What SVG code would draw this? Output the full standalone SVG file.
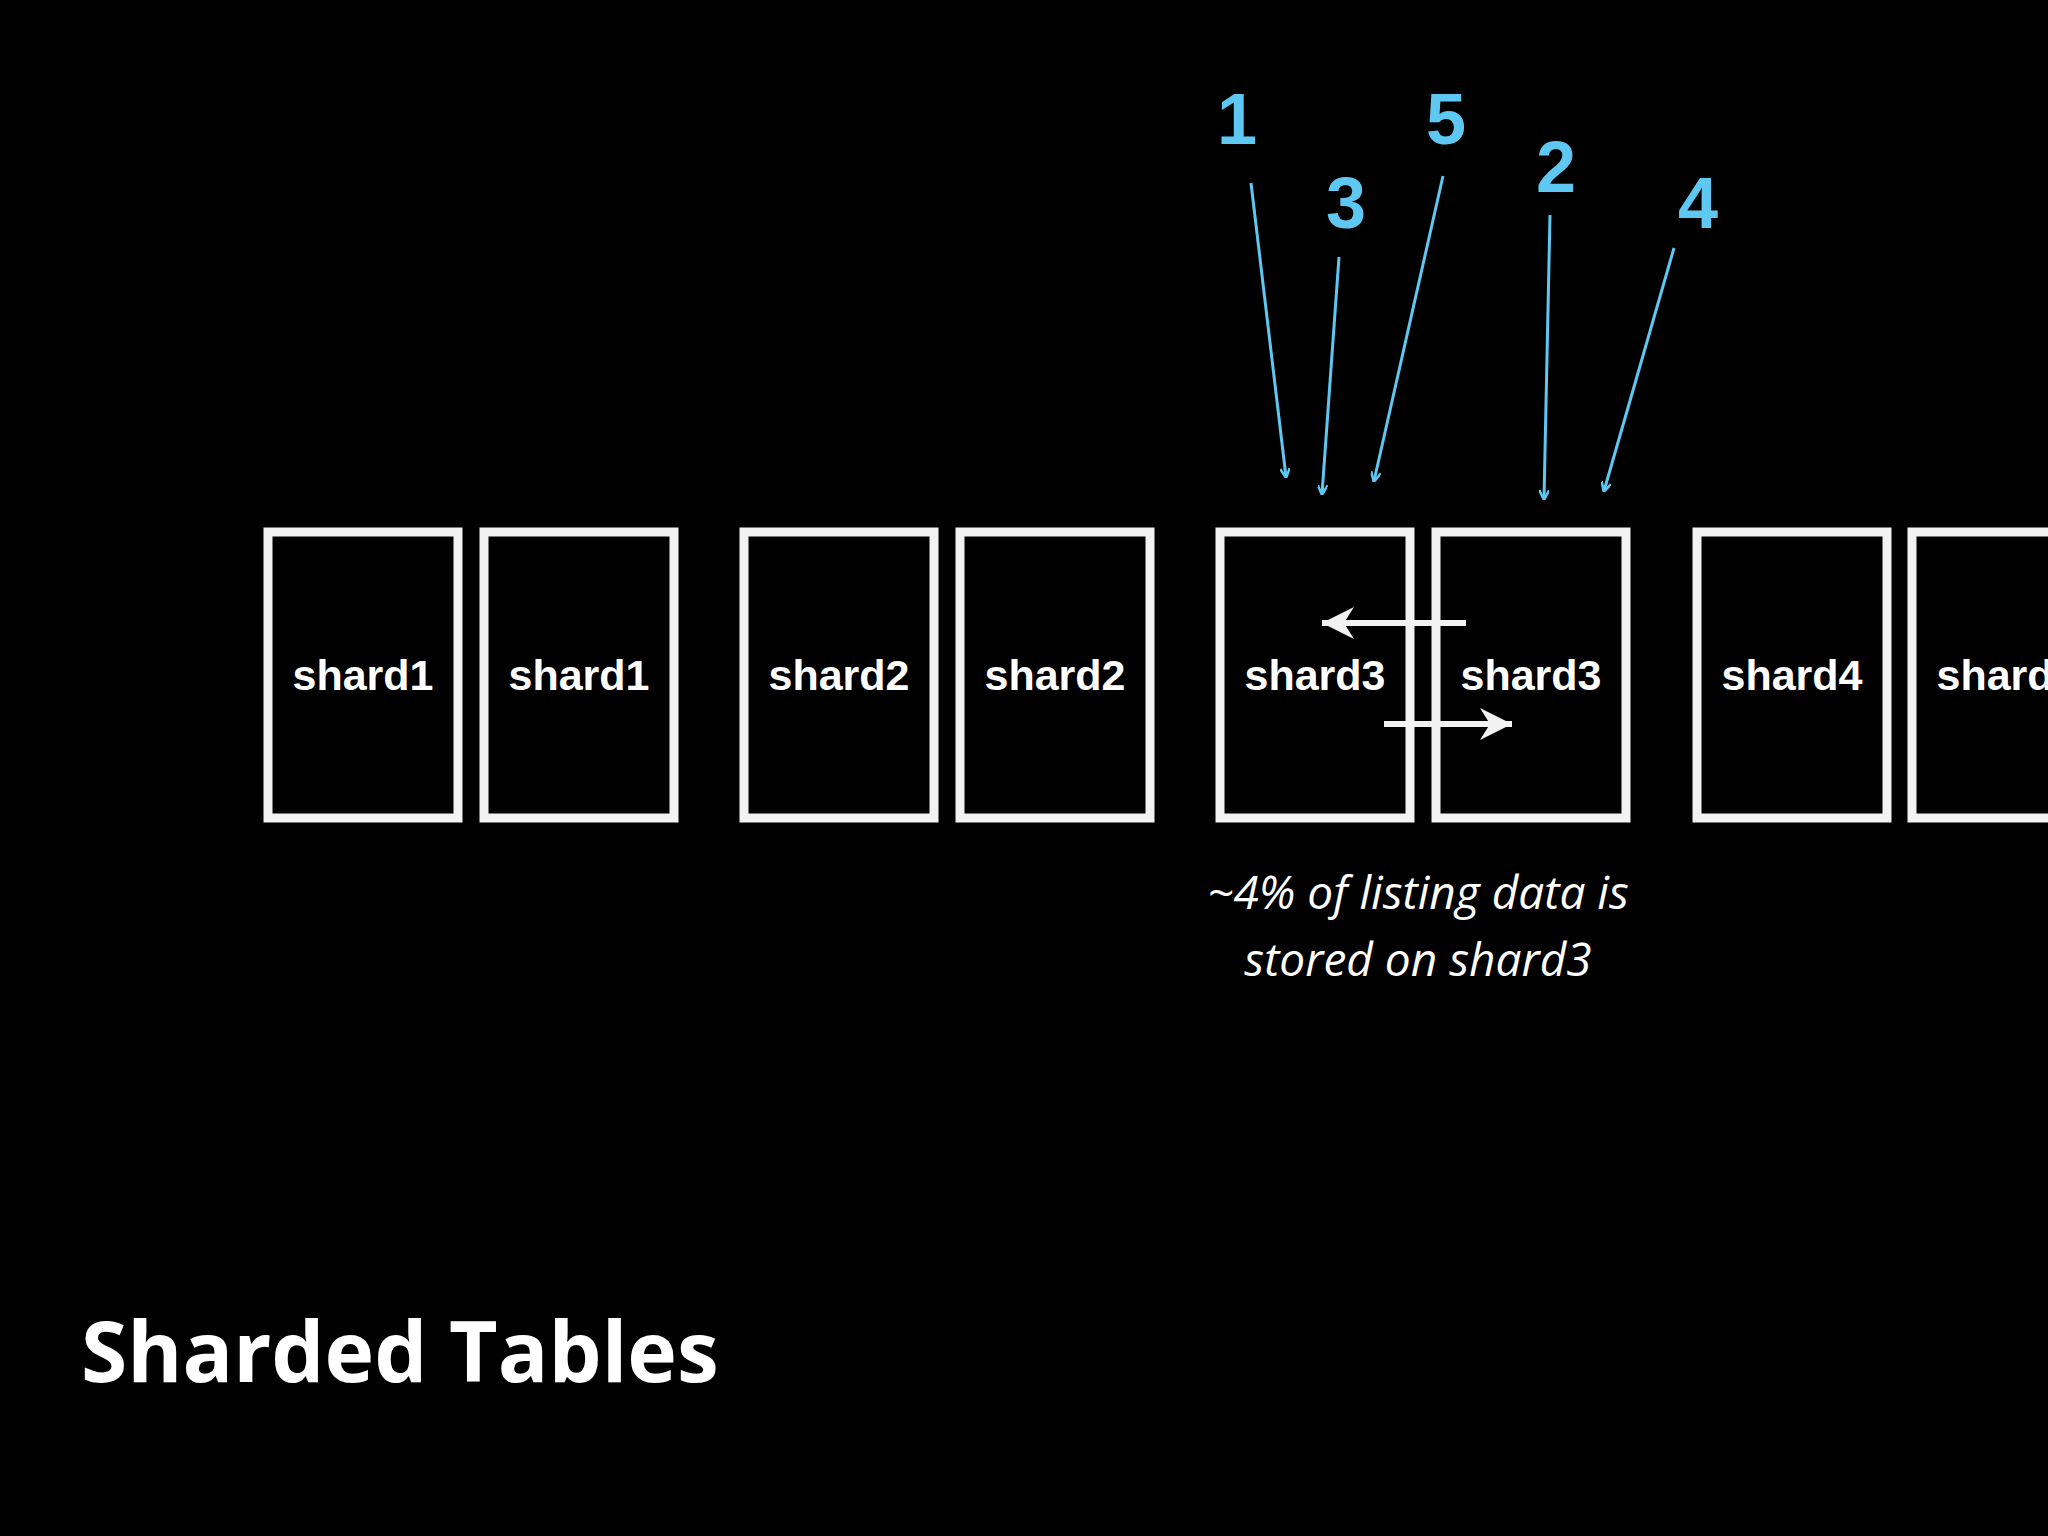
<svg xmlns="http://www.w3.org/2000/svg" width="2048" height="1536" viewBox="0 0 2048 1536">
<defs>
<style>
.box{fill:none;stroke:#f2f2f2;stroke-width:9}
.lbl{font-family:"Liberation Sans",Arial,sans-serif;font-weight:bold;font-size:43px;fill:#fff;text-anchor:middle}
.num{font-family:"Liberation Sans",Arial,sans-serif;font-weight:bold;font-size:72px;fill:#5ec8f2;text-anchor:middle}
.bl{stroke:#5ec8f2;stroke-width:3;fill:none;marker-end:url(#ab)}
.wl{stroke:#f2f2f2;stroke-width:6;fill:none;marker-end:url(#aw)}
.cap{font-family:"Open Sans",sans-serif;font-style:italic;font-size:46px;fill:#fff;text-anchor:middle}
</style>
<marker id="ab" markerWidth="10" markerHeight="10" refX="9" refY="5" orient="auto" markerUnits="userSpaceOnUse" viewBox="0 0 10 10"><path d="M0,0 L10,5 L0,10" fill="none" stroke="#5ec8f2" stroke-width="2.5"/></marker>
<marker id="aw" markerWidth="40" markerHeight="40" refX="36" refY="20" orient="auto" markerUnits="userSpaceOnUse" viewBox="0 0 40 40"><path d="M4,4 L36,20 L4,36 L14,20 Z" fill="#f2f2f2"/></marker>
</defs>
<rect width="2048" height="1536" fill="#000"/>
<g id="nodes">
<g id="n1"><rect class="box" x="268" y="532" width="190" height="286"/><text class="lbl" x="363" y="690">shard1</text></g>
<g id="n2"><rect class="box" x="484" y="532" width="190" height="286"/><text class="lbl" x="579" y="690">shard1</text></g>
<g id="n3"><rect class="box" x="744" y="532" width="190" height="286"/><text class="lbl" x="839" y="690">shard2</text></g>
<g id="n4"><rect class="box" x="960" y="532" width="190" height="286"/><text class="lbl" x="1055" y="690">shard2</text></g>
<g id="n5"><rect class="box" x="1220" y="532" width="190" height="286"/><text class="lbl" x="1315" y="690">shard3</text></g>
<g id="n6"><rect class="box" x="1436" y="532" width="190" height="286"/><text class="lbl" x="1531" y="690">shard3</text></g>
<g id="n7"><rect class="box" x="1697" y="532" width="190" height="286"/><text class="lbl" x="1792" y="690">shard4</text></g>
<g id="n8"><rect class="box" x="1912" y="532" width="190" height="286"/><text class="lbl" x="2007" y="690">shard4</text></g>
</g>
<g id="connectors">
<line class="wl" x1="1466" y1="623" x2="1322" y2="623"/>
<line class="wl" x1="1384" y1="724" x2="1512" y2="724"/>
<line class="bl" x1="1251" y1="183" x2="1286" y2="477"/>
<line class="bl" x1="1339" y1="257" x2="1322" y2="494"/>
<line class="bl" x1="1443" y1="176" x2="1374" y2="481"/>
<line class="bl" x1="1550" y1="215" x2="1544" y2="499"/>
<line class="bl" x1="1674" y1="248" x2="1604" y2="491"/>
</g>
<g id="labels">
<text class="num" x="1237" y="144">1</text>
<text class="num" x="1346" y="228">3</text>
<text class="num" x="1446" y="144">5</text>
<text class="num" x="1556" y="192">2</text>
<text class="num" x="1698" y="228">4</text>
<text class="cap" x="1418" y="909">~4% of listing data is</text>
<text class="cap" x="1418" y="976">stored on shard3</text>
<text x="81" y="1382" font-family="'Open Sans',sans-serif" font-weight="bold" font-size="84" fill="#fff">Sharded Tables</text>
</g>
</svg>
